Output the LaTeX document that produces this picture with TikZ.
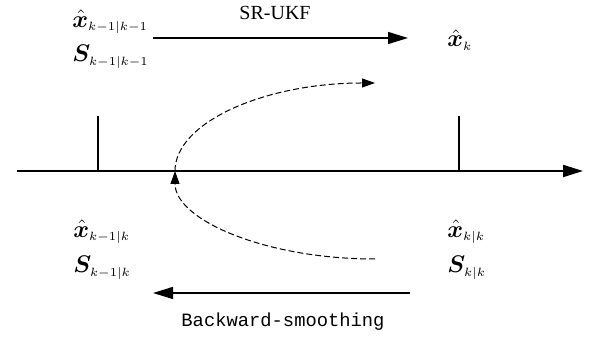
\documentclass[tikz,border=0pt]{standalone}
\usepackage{amsmath}
\usepackage{bm}
\usepackage{fontspec}
\setmainfont{Liberation Serif}
\setmonofont{Liberation Mono}
\usepackage{tikz}
\usetikzlibrary{arrows.meta}
\newcommand{\sbx}[1]{_{\scriptscriptstyle #1}}
\tikzset{
  est/.style={anchor=west, inner sep=0pt, font=\fontsize{11.5}{13}\selectfont},
  axisline/.style={line width=1pt, -{Triangle[length=10pt,width=6pt]}},
  tick/.style={line width=1pt},
  arrow/.style={line width=0.7pt, -{Triangle[length=10pt,width=6pt]}},
  dasharrow/.style={line width=0.5pt, dash pattern=on 3pt off 1.5pt,
    -{Triangle[length=6.5pt,width=4.5pt]}}
}

\begin{document}
\begin{tikzpicture}[x=0.5pt, y=0.5pt]
    \useasboundingbox (0,0) rectangle (592,340);

    % Time axis
    \coordinate (axL) at (17,169);
    \coordinate (axR) at (583,169);
    \draw[axisline] (axL) -- (axR);

    % Ticks at k-1 and k
    \coordinate (t1) at (98,169);
    \coordinate (t1u) at (98,224);
    \coordinate (t2) at (459,169);
    \coordinate (t2u) at (459,224);
    \draw[tick] (t1) -- (t1u);
    \draw[tick] (t2) -- (t2u);

    % Estimates
    \node[est] (xprev) at (72,318) {$\boldsymbol{\hat{x}}\sbx{k-1|k-1}$};
    \node[est] (Sprev) at (72,283) {$\boldsymbol{S}\sbx{k-1|k-1}$};
    \node[est] (xk)    at (447,300) {$\boldsymbol{\hat{x}}\sbx{k}$};
    \node[est] (xsm)   at (73,108) {$\boldsymbol{\hat{x}}\sbx{k-1|k}$};
    \node[est] (Ssm)   at (73,72)  {$\boldsymbol{S}\sbx{k-1|k}$};
    \node[est] (xkk)   at (447,108) {$\boldsymbol{\hat{x}}\sbx{k|k}$};
    \node[est] (Skk)   at (447,72)  {$\boldsymbol{S}\sbx{k|k}$};

    % Forward filter
    \coordinate (fwdA) at (153,302);
    \coordinate (fwdB) at (408,302);
    \draw[arrow] (fwdA) -- (fwdB);
    \node[font=\fontsize{10}{12}\selectfont] (fwd) at (275,327) {SR-UKF};

    % Backward smoother
    \coordinate (bwdA) at (410,47);
    \coordinate (bwdB) at (153,47);
    \draw[arrow] (bwdA) -- (bwdB);
    \node[font=\ttfamily\fontsize{9.4}{11}\selectfont] (bwd) at (283,18) {Backward-smoothing};

    % Dashed loop
    \coordinate (lpS) at (375,81);
    \coordinate (lpM) at (175,169);
    \draw[dasharrow] (lpS) arc[start angle=270, end angle=180, x radius=100pt, y radius=44pt];
    \draw[dasharrow] (lpM) arc[start angle=180, end angle=90, x radius=100pt, y radius=44pt];
\end{tikzpicture}
\end{document}
